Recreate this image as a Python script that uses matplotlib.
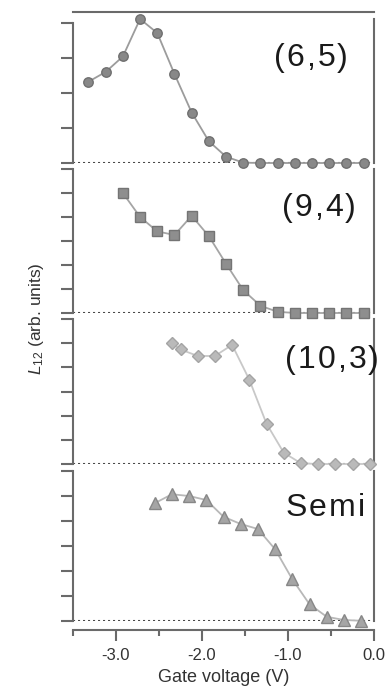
import matplotlib
matplotlib.use("Agg")
import matplotlib.pyplot as plt

plt.rcParams['font.family'] = ['Liberation Sans', 'DejaVu Sans']
plt.rcParams['axes.unicode_minus'] = False
plt.rcParams['mathtext.fontset'] = 'custom'
plt.rcParams['mathtext.rm'] = 'Liberation Sans'
plt.rcParams['mathtext.it'] = 'Liberation Sans:italic'

# ---- data ----
x_65 = [-3.32, -3.12, -2.92, -2.72, -2.52, -2.32, -2.12, -1.92, -1.72, -1.52,
        -1.32, -1.12, -0.92, -0.72, -0.52, -0.32, -0.12]
y_65 = [2.32, 2.60, 3.04, 4.11, 3.71, 2.54, 1.44, 0.62, 0.18, 0.01,
        0.0, 0.0, 0.0, 0.0, 0.0, 0.0, 0.0]

x_94 = [-2.92, -2.72, -2.52, -2.32, -2.12, -1.92, -1.72, -1.52, -1.32, -1.12,
        -0.92, -0.72, -0.52, -0.32, -0.12]
y_94 = [5.0, 4.0, 3.4, 3.25, 4.05, 3.2, 2.05, 0.95, 0.3, 0.05,
        0.0, 0.0, 0.0, 0.0, 0.0]

x_103 = [-2.35, -2.25, -2.05, -1.85, -1.65, -1.45, -1.25, -1.05, -0.85, -0.65,
         -0.45, -0.25, -0.05]
y_103 = [4.99, 4.74, 4.47, 4.47, 4.93, 3.49, 1.67, 0.47, 0.03, 0.0,
         0.0, 0.0, 0.0]

x_semi = [-2.55, -2.35, -2.15, -1.95, -1.75, -1.55, -1.35, -1.15, -0.95, -0.75,
          -0.55, -0.35, -0.15]
y_semi = [4.71, 5.07, 5.0, 4.84, 4.17, 3.88, 3.68, 2.87, 1.67, 0.67,
          0.17, 0.04, 0.01]

labels = ["(6,5)", "(9,4)", "(10,3)", "Semi"]
xticks = [-3.0, -2.0, -1.0, 0.0]
xtick_labels = ["-3.0", "-2.0", "-1.0", "0.0"]
minor_xticks = [-3.5, -2.5, -1.5, -0.5]

W, H = 392, 689
fig = plt.figure(figsize=(W / 100, H / 100), dpi=100)
renderer = fig.canvas.get_renderer()

def fx(px):
    return px / W

def fy(py):
    return 1 - py / H

def spaced_text(cx, cy, s, size, gap, color):
    # measure each character, then lay them out with extra letter spacing
    widths = []
    for ch in s:
        t = fig.text(0, 0, ch, fontsize=size)
        widths.append(t.get_window_extent(renderer).width)
        t.remove()
    total = sum(widths) + gap * (len(s) - 1)
    x = cx - total / 2
    for ch, w in zip(s, widths):
        fig.text(fx(x), fy(cy), ch, fontsize=size, ha='left', va='center', color=color)
        x += w + gap

left, right = 73, 374
# (top_px, bottom_px, ymax, ntick)
panels = [
    (12, 163, 4.31, 4),
    (169, 313, 6.0, 6),
    (319, 464, 6.0, 6),
    (471, 621, 6.0, 6),
]
series = [
    (x_65, y_65, 'o', 6.8, '#888888', '#707070', '#9c9c9c'),
    (x_94, y_94, 's', 6.6, '#8e8e8e', '#747474', '#a5a5a5'),
    (x_103, y_103, 'D', 6.0, '#bababa', '#a4a4a4', '#c8c8c8'),
    (x_semi, y_semi, '^', 8.0, '#a5a5a5', '#878787', '#b8b8b8'),
]
text_pos = [(311, 58), (319, 208), (332, 360), (325, 508)]

spine_col = '#6a6a6a'
for i, ((tp, bp, ymax, nt), (xs, ys, mk, ms, fc, ec, lc)) in enumerate(zip(panels, series)):
    ax = fig.add_axes([fx(left), fy(bp), fx(right) - fx(left), fy(tp) - fy(bp)])
    ax.set_xlim(-3.5, 0.0)
    ax.set_ylim(0, ymax)
    ax.patch.set_alpha(0)
    ax.axhline(0, color='#4a4a4a', lw=1.5, ls=(0, (1.0, 1.4)), zorder=1)
    ax.plot(xs, ys, color=lc, lw=1.3, zorder=2, clip_on=False)
    ax.plot(xs, ys, ls='none', marker=mk, ms=ms, mfc=fc, mec=ec, mew=1.0,
            zorder=3, clip_on=False)
    ax.set_yticks(list(range(nt + 1)))
    ax.set_yticklabels([])
    ax.tick_params(axis='y', direction='out', length=9, width=1.5, color=spine_col)
    ax.spines['left'].set_bounds(0, nt)
    ax.spines['left'].set_color(spine_col)
    ax.spines['left'].set_linewidth(1.5)
    ax.spines['right'].set_color(spine_col)
    ax.spines['right'].set_linewidth(1.5)
    if i == 0:
        ax.spines['right'].set_bounds(0, 4.1)
        ax.spines['top'].set_color(spine_col)
        ax.spines['top'].set_linewidth(1.5)
    else:
        ax.spines['top'].set_visible(False)
    if i < 3:
        ax.spines['bottom'].set_visible(False)
        ax.set_xticks([])
    else:
        ax.spines['bottom'].set_position(('outward', 6.5))
        ax.spines['bottom'].set_color(spine_col)
        ax.spines['bottom'].set_linewidth(1.5)
        ax.set_xticks(xticks)
        ax.set_xticklabels(xtick_labels, fontsize=12, color='#333333')
        ax.set_xticks(minor_xticks, minor=True)
        ax.tick_params(axis='x', which='major', direction='out', length=8, width=1.5,
                       color=spine_col, pad=5)
        ax.tick_params(axis='x', which='minor', direction='out', length=4, width=1.5,
                       color=spine_col)
        ax.set_xlabel("Gate voltage (V)", fontsize=13, color='#333333', labelpad=4)

for lab, (tx, ty) in zip(labels, text_pos):
    spaced_text(tx, ty, lab, 23, 2.0, '#1a1a1a')

fig.text(fx(36), fy(319), r"$L_{12}$ (arb. units)", rotation=90, ha='center', va='center',
         fontsize=12.5, color='#333333')

fig.savefig("out.png", dpi=100)
